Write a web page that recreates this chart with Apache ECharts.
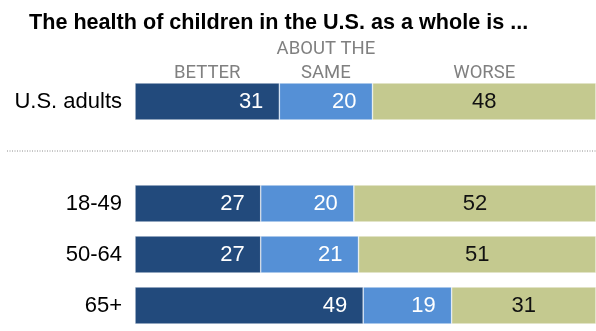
<!DOCTYPE html>
<html>
<head>
<meta charset="utf-8">
<style>
  html, body { margin: 0; padding: 0; background: #fff; }
  #chart { width: 596px; height: 331px; }
</style>
<script src="https://cdn.jsdelivr.net/npm/echarts@6/dist/echarts.min.js"></script>
</head>
<body>
<div id="chart"></div>
<script>
// Rows (top to bottom); the empty row leaves room for the separator line
const categories = ['U.S. adults', '', '18-49', '50-64', '65+'];
const better = [31, null, 27, 27, 49];
const aboutSame = [20, null, 20, 21, 19];
const worse = [48, null, 52, 51, 31];
const headerLabels = [['BETTER'], ['ABOUT THE', 'SAME'], ['WORSE']];
const titleText = 'The health of children in the U.S. as a whole is ...';

const colors = ['#224a7c', '#5590d6', '#c4c98f'];

const chart = echarts.init(document.getElementById('chart'), null, { renderer: 'canvas' });

function segment(name, data, color, labelColor, position) {
  return {
    name: name,
    type: 'bar',
    stack: 'total',
    data: data,
    barWidth: 37,
    itemStyle: { color: color, borderColor: 'rgba(255,255,255,0.7)', borderWidth: 0.6 },
    label: {
      show: true,
      position: position,
      distance: 16,
      color: labelColor,
      fontSize: 22,
      fontFamily: 'Arial, "Liberation Sans", sans-serif',
      formatter: p => (p.value == null ? '' : p.value)
    },
    emphasis: { disabled: true },
    animation: false
  };
}

const option = {
  animation: false,
  title: {
    text: titleText,
    left: 24,
    top: 7,
    textStyle: {
      fontSize: 21.6,
      fontWeight: 'bold',
      color: '#000',
      fontFamily: 'Arial, "Liberation Sans", sans-serif'
    }
  },
  grid: { left: 135, right: 0, top: 76, height: 262, containLabel: false },
  xAxis: {
    type: 'value',
    min: 0,
    max: 99,
    show: false
  },
  yAxis: {
    type: 'category',
    data: categories,
    inverse: true,
    axisLine: { show: false },
    axisTick: { show: false },
    splitLine: { show: false },
    axisLabel: {
      margin: 13,
      fontSize: 22,
      color: '#000',
      fontFamily: 'Arial, "Liberation Sans", sans-serif'
    }
  },
  series: [
    segment('Better', better, colors[0], '#fff', 'insideRight'),
    segment('About the same', aboutSame, colors[1], '#fff', 'insideRight'),
    segment('Worse', worse, colors[2], '#111', 'inside')
  ]
};

chart.setOption(option);

// Column headers centred over the first row's segments, plus the dotted separator
const first = [better[0], aboutSame[0], worse[0]];
const graphics = [];
let start = 0;
first.forEach((v, i) => {
  const mid = start + v / 2;
  start += v;
  const px = chart.convertToPixel({ gridIndex: 0 }, [mid, categories[0]])[0];
  const lines = headerLabels[i];
  lines.forEach((t, j) => {
    const fromBottom = lines.length - 1 - j;
    graphics.push({
      type: 'text',
      x: px,
      y: 83 - fromBottom * 24,
      style: {
        text: t,
        fill: '#808080',
        fontSize: 18.5,
        fontFamily: 'Roboto, Arial, sans-serif',
        align: 'center',
        verticalAlign: 'bottom'
      },
      silent: true
    });
  });
});

const sepY = chart.convertToPixel({ gridIndex: 0 }, [0, categories[1]])[1];
graphics.push({
  type: 'line',
  shape: { x1: 7, y1: sepY - 1.5, x2: 596, y2: sepY - 1.5 },
  style: { stroke: '#8c8c8c', lineWidth: 1, lineDash: [1, 1.5] },
  silent: true
});

chart.setOption({ graphic: graphics });
</script>
</body>
</html>
